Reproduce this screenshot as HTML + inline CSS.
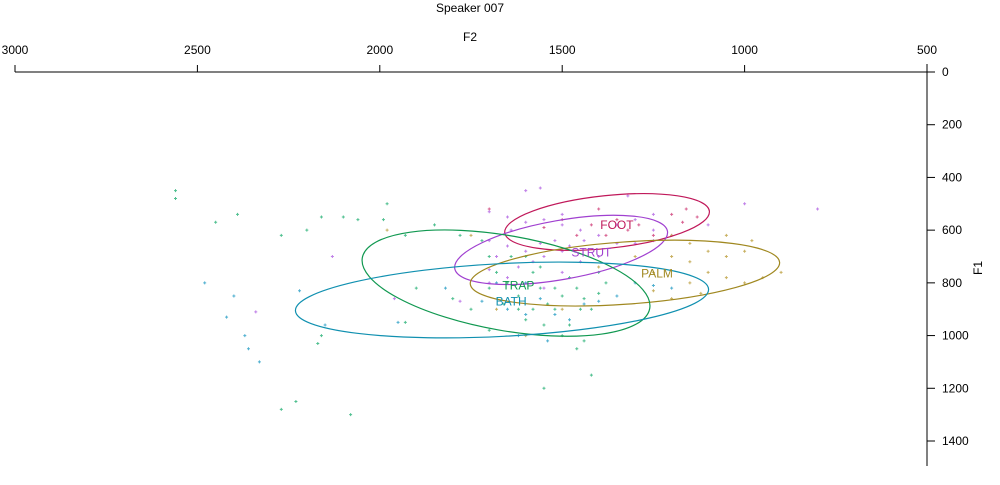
<!DOCTYPE html>
<html><head><meta charset="utf-8"><style>
body{margin:0;background:#fff;width:1000px;height:480px;overflow:hidden}
svg{font-family:"Liberation Sans",Arial,sans-serif}
</style></head><body>
<svg id="chart" width="1000" height="480" xmlns="http://www.w3.org/2000/svg">
<text x="470" y="12" font-size="12" text-anchor="middle">Speaker 007</text>
<text x="470" y="41" font-size="12" text-anchor="middle">F2</text>
<text x="0" y="0" font-size="12" text-anchor="middle" transform="translate(982,268) rotate(-90)">F1</text>
<g id="axes"></g><g id="pts"></g><g id="ells"></g><g id="labels"></g>
</svg>
<script>
const xTicks=[3000,2500,2000,1500,1000,500];
const yTicks=[0,200,400,600,800,1000,1200,1400];
const vowels=["FOOT","STRUT","PALM","TRAP","BATH"];
const colors=["#c0185a","#a040d0","#a08820","#109850","#1090b0"];
const ptColors=["#d86090","#c080e8","#c8b060","#50c090","#50b0d0"];
const ellCenterF2=[1377,1503,1328,1654,1665];
const ellCenterF1=[569,675,763,801,865];
const ellRadF2=[282,296,425,400,567];
const ellRadF1=[100,112,118,180,138];
const ellAngle=[-6,-10,-4,10,-3];
const labelF2=[1350,1420,1240,1620,1640];
const labelF1=[580,685,765,810,870];
const ptsFOOT=[[1700,520],[1550,590],[1500,560],[1460,620],[1420,580],[1380,620],[1350,560],[1320,600],[1290,580],[1250,620],[1200,540],[1160,520],[1130,550],[1170,570],[1400,520]];
const ptsSTRUT=[[1600,450],[1560,440],[1700,530],[1650,550],[1600,570],[1550,560],[1500,580],[1450,600],[1400,620],[1350,580],[1300,560],[1250,600],[1700,640],[1650,660],[1600,680],[1550,700],[1500,680],[1450,720],[1400,700],[1350,650],[1700,750],[1650,780],[1600,800],[1550,820],[1500,760],[1620,740],[1580,720],[1560,650],[1520,640],[1480,660],[1440,640],[1300,650],[1250,640],[1200,620],[1100,580],[1000,500],[800,520],[1780,870],[1960,860],[2340,910],[2130,700],[1250,540],[1320,470],[1500,540],[1640,600],[1680,700],[1700,800]];
const ptsPALM=[[1200,620],[1150,650],[1100,680],[1050,700],[1000,680],[980,640],[1200,700],[1150,720],[1100,760],[1050,780],[1000,800],[1150,800],[1120,840],[1200,860],[1250,760],[1300,700],[1250,830],[1400,740],[1050,620],[900,760],[950,780],[1980,600],[1750,620],[1500,900],[1680,900],[1600,1000]];
const ptsTRAP=[[2560,450],[2560,480],[2450,570],[2390,540],[2270,620],[2200,600],[2160,550],[2100,550],[2060,560],[1990,560],[1980,500],[1930,620],[1850,580],[1780,620],[1720,640],[1700,700],[1680,760],[1650,800],[1620,850],[1600,700],[1580,760],[1560,820],[1540,880],[1520,900],[1500,850],[1480,780],[1460,820],[1440,860],[1420,900],[1400,840],[1380,800],[1600,940],[1550,960],[1500,1000],[1460,1050],[1420,1150],[1440,1020],[1480,960],[1700,980],[1750,900],[1800,860],[1900,820],[1930,950],[2080,1300],[2230,1250],[2270,1280],[2160,1000],[2170,1030],[1550,1200],[1620,900],[1660,880],[1580,900],[1520,820],[1560,740],[1640,700],[1700,820],[1450,900],[1400,760]];
const ptsBATH=[[2480,800],[2330,1100],[2370,1000],[2360,1050],[2400,850],[2420,930],[2220,830],[2150,960],[1950,950],[1820,820],[1720,870],[1650,900],[1600,920],[1560,860],[1520,920],[1480,940],[1440,880],[1400,870],[1350,850],[1300,800],[1250,810],[1200,820],[1620,1000],[1540,1020],[1680,800],[1600,800]];
const allPts=[ptsFOOT,ptsSTRUT,ptsPALM,ptsTRAP,ptsBATH];

const X0=15,X1=927,Y0=72,Y1=441;
const sx=f=>X0+(3000-f)*(X1-X0)/2500;
const sy=f=>Y0+f*(Y1-Y0)/1400;
const NS="http://www.w3.org/2000/svg";
function mk(tag,attrs,parent){const e=document.createElementNS(NS,tag);for(const k in attrs)e.setAttribute(k,attrs[k]);parent.appendChild(e);return e;}
const axes=document.getElementById('axes');
let l=mk('line',{x1:X0,y1:Y0,x2:X1,y2:Y0,stroke:'#000'},axes);


l=mk('line',{x1:X1,y1:64,x2:X1,y2:466,stroke:'#000'},axes);


xTicks.forEach(t=>{
  const x=sx(t);
  const tk=mk('line',{x1:x,y1:Y0,x2:x,y2:Y0-7,stroke:'#000'},axes);
  
  
  const tx=mk('text',{x:x,y:54,'font-size':12,'text-anchor':'middle'},axes);tx.textContent=t;
  
  
});
yTicks.forEach(t=>{
  const y=sy(t);
  const tk=mk('line',{x1:X1,y1:y,x2:X1+8,y2:y,stroke:'#000'},axes);
  
  
  const tx=mk('text',{x:942,y:y+4,'font-size':12},axes);tx.textContent=t;
  
  
});
const pts=document.getElementById('pts');
allPts.forEach((arr,i)=>{arr.forEach(p=>{
  const x=sx(p[0]),y=sy(p[1]);
  const g=mk('path',{d:`M${x-1.5},${y}H${x+1.5}M${x},${y-1.5}V${y+1.5}`,stroke:ptColors[i],'stroke-width':1},pts);
  
  
});});
const ells=document.getElementById('ells'),labs=document.getElementById('labels');
vowels.forEach((v,i)=>{
  const cx=sx(ellCenterF2[i]),cy=sy(ellCenterF1[i]);
  const rx=ellRadF2[i]*(X1-X0)/2500,ry=ellRadF1[i]*(Y1-Y0)/1400;
  const e=mk('ellipse',{cx:cx,cy:cy,rx:rx,ry:ry,fill:'none',stroke:colors[i],'stroke-width':1.2,transform:`rotate(${ellAngle[i]} ${cx} ${cy})`},ells);
  
  
  const t=mk('text',{x:sx(labelF2[i]),y:sy(labelF1[i])+4,'font-size':12,'text-anchor':'middle',fill:colors[i]},labs);
  t.textContent=v;
  
  
});
</script>
</body></html>
